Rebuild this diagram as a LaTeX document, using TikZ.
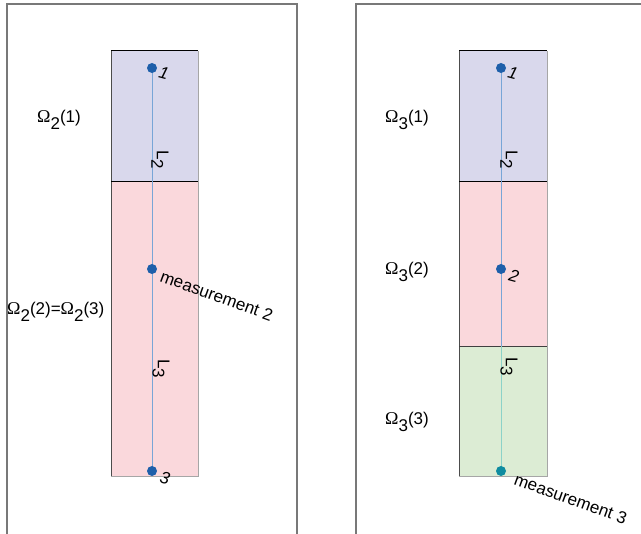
\documentclass[tikz,border=0pt]{standalone}
\usepackage{fontspec}
\setmainfont{Liberation Sans}
\newfontfamily\omfont{Liberation Serif}
\usepackage{xcolor}
\usetikzlibrary{positioning}
\definecolor{RegionBlue} {RGB}{217,216,236}
\definecolor{RegionRed}  {RGB}{250,216,220}
\definecolor{RegionGreen}{RGB}{220,236,212}
\definecolor{StemBlue}   {RGB}{120,165,215}
\definecolor{StemTeal}   {RGB}{140,210,200}
\definecolor{DotBlue}    {RGB}{30, 95,170}
\definecolor{DotTeal}    {RGB}{15,140,160}
\definecolor{FrameGray}  {RGB}{120,120,120}

\newcommand{\omreg}[2]{{\omfont\fontsize{18}{20}\selectfont Ω}\raisebox{-0.75ex}{#1}(#2)}

\begin{document}
\begin{tikzpicture}[
    x=1pt, y=-1pt,
    font=\fontsize{17}{19}\selectfont,
    frame/.style={draw=FrameGray, line width=1.1pt},
    sep/.style={black, line width=1pt},
    edgedark/.style={draw=black!70, line width=0.8pt},
    edgelight/.style={draw=black!35, line width=0.8pt},
    stem/.style={StemBlue, line width=0.8pt},
    stemteal/.style={StemTeal, line width=0.8pt},
    dot/.style={circle, fill=DotBlue, inner sep=0pt, minimum size=10pt},
    omlbl/.style={anchor=base west, inner sep=0pt},
    meas/.style={anchor=base west, rotate=-20, inner sep=0pt},
    num/.style={font=\fontsize{17}{19}\selectfont\itshape, rotate=-15, inner sep=0pt},
    lenlbl/.style={rotate=-90, inner sep=0pt}
]
    \useasboundingbox (0,0) rectangle (641,534);

    % Frames
    \draw[frame] (7,534) -- (7,4) -- (297,4) -- (297,534);
    \draw[frame] (356,534) -- (356,4) -- (641,4);

    % Left column
    \fill[RegionBlue] (111,51) rectangle (198,182);
    \fill[RegionRed] (111,182) rectangle (198,476);
    \draw[edgedark] (111,51) -- (111,476);
    \draw[edgelight] (198,51) -- (198,476) -- (111,476);
    \draw[sep] (111,51) -- (198,51);
    \draw[sep] (111,182) -- (198,182);

    % Right column
    \fill[RegionBlue] (459,51) rectangle (547,182);
    \fill[RegionRed] (459,182) rectangle (547,346);
    \fill[RegionGreen] (459,346) rectangle (547,476);
    \draw[edgedark] (459,51) -- (459,476);
    \draw[edgelight] (547,51) -- (547,476) -- (459,476);
    \draw[sep] (459,51) -- (547,51);
    \draw[sep] (459,182) -- (547,182);
    \draw[black!75, line width=0.9pt] (459,346) -- (547,346);

    % Stems
    \coordinate (a1) at (152,68);
    \coordinate (a2) at (152,269);
    \coordinate (a3) at (152,471);
    \coordinate (b1) at (501,68);
    \coordinate (b2) at (501,269);
    \coordinate (bsplit) at (501,346);
    \coordinate (b3) at (501,471);
    \draw[stem] (a1) -- (a3);
    \draw[stem] (b1) -- (bsplit);
    \draw[stemteal] (bsplit) -- (b3);

    % Nodes
    \node[dot] (da1) at (a1) {};
    \node[dot] (da2) at (a2) {};
    \node[dot] (da3) at (a3) {};
    \node[dot] (db1) at (b1) {};
    \node[dot] (db2) at (b2) {};
    \node[dot, fill=DotTeal] (db3) at (b3) {};

    % Labels
    \node[num] (na1) at (164,73) {1};
    \node[num] (na3) at (165,478) {3};
    \node[num] (nb1) at (513,73) {1};
    \node[num] (nb2) at (514,276) {2};

    \node[lenlbl] (la2) at (160,160) {L\raisebox{-0.6ex}{2}};
    \node[lenlbl] (la3) at (161,369) {L\raisebox{-0.6ex}{3}};
    \node[lenlbl] (lb2) at (509,160) {L\raisebox{-0.6ex}{2}};
    \node[lenlbl] (lb3) at (509,367) {L\raisebox{-0.6ex}{3}};

    \node[meas] (m2) at (159,281) {measurement 2};
    \node[meas] (m3) at (513,484) {measurement 3};

    \node[omlbl] (oa1) at (37,123) {\omreg{2}{1}};
    \node[omlbl] (oa2) at (7,315) {\omreg{2}{2}=\omreg{2}{3}};
    \node[omlbl] (ob1) at (385,123) {\omreg{3}{1}};
    \node[omlbl] (ob2) at (385,275) {\omreg{3}{2}};
    \node[omlbl] (ob3) at (385,425) {\omreg{3}{3}};

\end{tikzpicture}
\end{document}
